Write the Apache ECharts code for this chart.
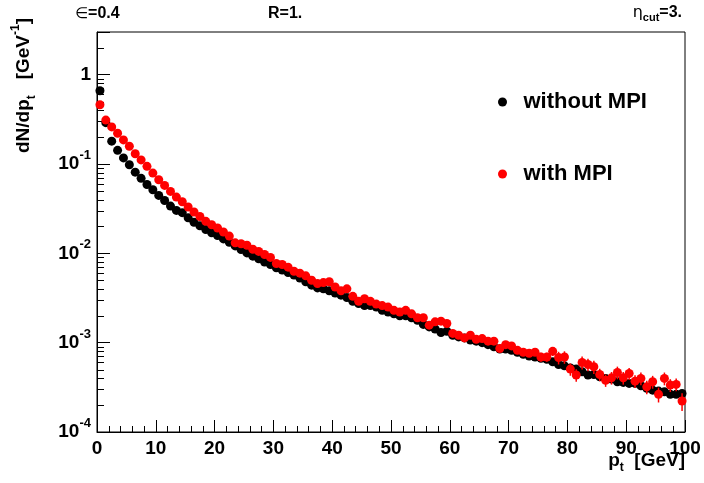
<!DOCTYPE html>
<html><head><meta charset="utf-8">
<script src="https://cdn.jsdelivr.net/npm/echarts@6/dist/echarts.min.js"></script>
<style>html,body{margin:0;padding:0;background:#fff}#c{width:704px;height:483px}</style>
</head><body><div id="c"></div>
<script>
// bin centres [GeV]
const pt = [0.5,1.5,2.5,3.5,4.5,5.5,6.5,7.5,8.5,9.5,10.5,11.5,12.5,13.5,14.5,15.5,16.5,17.5,18.5,19.5,
20.5,21.5,22.5,23.5,24.5,25.5,26.5,27.5,28.5,29.5,30.5,31.5,32.5,33.5,34.5,35.5,36.5,37.5,38.5,39.5,
40.5,41.5,42.5,43.5,44.5,45.5,46.5,47.5,48.5,49.5,50.5,51.5,52.5,53.5,54.5,55.5,56.5,57.5,58.5,59.5,
60.5,61.5,62.5,63.5,64.5,65.5,66.5,67.5,68.5,69.5,70.5,71.5,72.5,73.5,74.5,75.5,76.5,77.5,78.5,79.5,
80.5,81.5,82.5,83.5,84.5,85.5,86.5,87.5,88.5,89.5,90.5,91.5,92.5,93.5,94.5,95.5,96.5,97.5,98.5,99.5];

const withoutMPI = [
0.66,0.29,0.18,0.142,0.117,0.098,0.081,0.069,0.059,0.0515,
0.0445,0.039,0.0338,0.0302,0.0285,0.025,0.0222,0.0203,0.0185,0.017,
0.0158,0.0145,0.0133,0.0121,0.011,0.0101,0.0093,0.0087,0.008,0.0075,
0.0069,0.0065,0.0061,0.0057,0.0053,0.0048,0.0044,0.0041,0.004,0.0038,
0.0036,0.0034,0.0032,0.0029,0.00274,0.0026,0.0026,0.0025,0.0023,0.0022,
0.0021,0.002,0.002,0.0019,0.00178,0.0016,0.0015,0.00142,0.0013,0.00134,
0.00121,0.00116,0.00113,0.00107,0.00104,0.001,0.00095,0.0009,0.00085,0.00085,
0.00082,0.00078,0.00074,0.00071,0.00069,0.00067,0.00065,0.00061,0.00057,0.00055,
0.00052,0.000506,0.000472,0.000434,0.00044,0.000415,0.000398,0.000391,0.000365,0.000359,
0.00035,0.00035,0.000329,0.000308,0.000294,0.000287,0.000282,0.000264,0.000264,0.00027];

const withMPI = [
0.46,0.31,0.26,0.221,0.186,0.158,0.130,0.111,0.094,0.079,
0.0666,0.0575,0.0493,0.0426,0.0378,0.033,0.029,0.0258,0.0228,0.0209,
0.0192,0.0173,0.0156,0.0131,0.0128,0.0123,0.0111,0.0105,0.0097,0.009,
0.0077,0.0075,0.007,0.0063,0.006,0.0056,0.005,0.0046,0.0047,0.0048,
0.0042,0.0038,0.004,0.0033,0.0029,0.0031,0.0029,0.0027,0.0026,0.0025,
0.0023,0.0022,0.0023,0.0021,0.0019,0.0019,0.00157,0.00171,0.00174,0.00164,
0.00127,0.00121,0.00113,0.00121,0.00109,0.00111,0.00104,0.00104,0.00086,0.00095,
0.00092,0.00082,0.00078,0.00076,0.00078,0.00069,0.00069,0.0008,0.00068,0.00069,
0.000506,0.000434,0.0006,0.00057,0.000537,0.00044,0.00038,0.000404,0.000464,0.000404,
0.000452,0.000371,0.000398,0.00032,0.000365,0.000264,0.000398,0.000335,0.000341,0.000222];

// approximate statistical errors of the "with MPI" points (visible only at high pt)
const withMPIErr = [
0,0,0,0,0,0,0,0,0,0, 0,0,0,0,0,0,0,0,0,0, 0,0,0,0,0,0,0,0,0,0, 0,0,0,0,0,0,0,0,0,0,
0,0,0,0,0,0,0,0,0,0, 0,0,0,0,0,0,0,0,0,0, 0,0,0,0,0,0,0,0,0,0,
0,0,0,0,0,0.00008,0.00008,0.00009,0.00011,0.00011,
0.00008,0.00007,0.0001,0.00009,0.00009,0.00007,0.00006,0.000065,0.000075,0.000065,
0.00007,0.00006,0.000065,0.000055,0.00006,0.00005,0.000065,0.000055,0.000055,0.00005];

const seriesNames = ['without MPI', 'with MPI'];
const seriesColors = ['#000000', '#ff0000'];

const FONT = '"Liberation Sans", Arial, Helvetica, sans-serif';

// minor tick positions of the log axis (2..9 x 10^n)
const minorVals = [];
for (let e = -4; e <= 0; e++) for (let k = 2; k <= 9; k++) { const v = k * Math.pow(10, e); if (v < 3) minorVals.push(v); }

const chart = echarts.init(document.getElementById('c'), null, {renderer: 'canvas'});

function pairs(ys) { return pt.map((x, i) => [x, ys[i]]); }

const option = {
  animation: false,
  backgroundColor: '#fff',
  grid: {left: 97, right: 19, top: 32, bottom: 51, show: true, borderColor: '#000', borderWidth: 1, backgroundColor: 'transparent'},
  xAxis: {
    type: 'value', min: 0, max: 100, interval: 10,
    axisLine: {onZero: false, lineStyle: {color: '#000', width: 1}},
    axisTick: {inside: true, length: 12, lineStyle: {color: '#000'}},
    minorTick: {show: true, splitNumber: 5, length: 6, lineStyle: {color: '#000'}},
    splitLine: {show: false}, minorSplitLine: {show: false},
    axisLabel: {color: '#000', fontFamily: FONT, fontWeight: 'bold', fontSize: 19, margin: 7}
  },
  yAxis: {
    type: 'log', logBase: 10, min: 0.0001, max: 3,
    axisLine: {onZero: false, lineStyle: {color: '#000', width: 1}},
    axisTick: {inside: true, length: 13, lineStyle: {color: '#000'}},
    splitLine: {show: false},
    axisLabel: {
      margin: 6, color: '#000',
      formatter: function (v) {
        const l = Math.log10(v), r = Math.round(l);
        if (Math.abs(l - r) > 1e-6) return '';
        if (r === 0) return '{b|1}';
        return '{b|10}{s|' + r + '}';
      },
      rich: {
        b: {fontFamily: FONT, fontWeight: 'bold', fontSize: 19, color: '#000', lineHeight: 30, verticalAlign: 'middle'},
        s: {fontFamily: FONT, fontWeight: 'bold', fontSize: 13, color: '#000', lineHeight: 14, verticalAlign: 'top'}
      }
    }
  },
  legend: {
    data: seriesNames, orient: 'vertical', left: 493, top: 86, itemGap: 50,
    icon: 'circle', itemWidth: 32, itemHeight: 9,
    textStyle: {fontFamily: FONT, fontWeight: 'bold', fontSize: 22, color: '#000', lineHeight: 22}
  },
  graphic: [
    {type: 'text', left: 75, top: 6, style: {text: '{e|∈}{t|=0.4}', rich: {
      e: {fontFamily: '"DejaVu Sans", sans-serif', fontSize: 15, fill: '#000'},
      t: {fontFamily: FONT, fontWeight: 'bold', fontSize: 16, fill: '#000'}}}},
    {type: 'text', left: 268, top: 6, style: {text: 'R=1.', fontFamily: FONT, fontWeight: 'bold', fontSize: 16, fill: '#000'}},
    {type: 'text', right: 22, top: 5, style: {text: '{e|η}{s|cut}{t|=3.}', rich: {
      e: {fontFamily: '"DejaVu Sans", sans-serif', fontSize: 16, fill: '#000', lineHeight: 20, verticalAlign: 'middle'},
      s: {fontFamily: FONT, fontWeight: 'bold', fontSize: 11, fill: '#000', lineHeight: 11, verticalAlign: 'bottom'},
      t: {fontFamily: FONT, fontWeight: 'bold', fontSize: 16, fill: '#000', lineHeight: 20, verticalAlign: 'middle'}}}},
    {type: 'text', right: 19, top: 451, style: {text: '{p|p}{s|t}{p|  [GeV]}', rich: {
      p: {fontFamily: FONT, fontWeight: 'bold', fontSize: 19, fill: '#000', lineHeight: 26, verticalAlign: 'middle'},
      s: {fontFamily: FONT, fontWeight: 'bold', fontSize: 12, fill: '#000', lineHeight: 12, verticalAlign: 'bottom'}}}},
    {type: 'text', x: 24, y: 153, rotation: Math.PI / 2, style: {x: 0, y: 0, align: 'left', verticalAlign: 'middle',
      text: '{m|dN/dp}{s|t}{m|   [GeV}{u|-1}{m|]}', rich: {
      m: {fontFamily: FONT, fontWeight: 'bold', fontSize: 19, fill: '#000', lineHeight: 28, verticalAlign: 'middle'},
      s: {fontFamily: FONT, fontWeight: 'bold', fontSize: 12, fill: '#000', lineHeight: 12, verticalAlign: 'bottom'},
      u: {fontFamily: FONT, fontWeight: 'bold', fontSize: 12, fill: '#000', lineHeight: 12, verticalAlign: 'top'}}}}
  ],
  series: [
    {type: 'custom', coordinateSystem: 'cartesian2d', silent: true, clip: false, z: 1,
     data: minorVals.map(v => [0, v]),
     renderItem: function (params, api) {
       const p = api.coord([0, api.value(1)]);
       const y = Math.round(p[1]) + 0.5;
       return {type: 'line', shape: {x1: p[0], y1: y, x2: p[0] + 7, y2: y}, style: {stroke: '#000', lineWidth: 1}};
     }},
    {name: seriesNames[0], type: 'scatter', symbol: 'circle', symbolSize: 9, data: pairs(withoutMPI),
     itemStyle: {color: seriesColors[0], opacity: 1}, z: 3},
    {type: 'custom', coordinateSystem: 'cartesian2d', silent: true, z: 3.5,
     data: pt.map((x, i) => [x, withMPI[i], withMPIErr[i]]),
     renderItem: function (params, api) {
       const e = api.value(2);
       if (!e) return null;
       const x = api.value(0), v = api.value(1);
       const p1 = api.coord([x, v - e]), p2 = api.coord([x, v + e]);
       return {type: 'line', shape: {x1: p1[0], y1: p1[1], x2: p2[0], y2: p2[1]}, style: {stroke: seriesColors[1], lineWidth: 1.5}};
     }},
    {name: seriesNames[1], type: 'scatter', symbol: 'circle', symbolSize: 9, data: pairs(withMPI),
     itemStyle: {color: seriesColors[1], opacity: 1}, z: 4}
  ]
};
chart.setOption(option);
</script></body></html>
